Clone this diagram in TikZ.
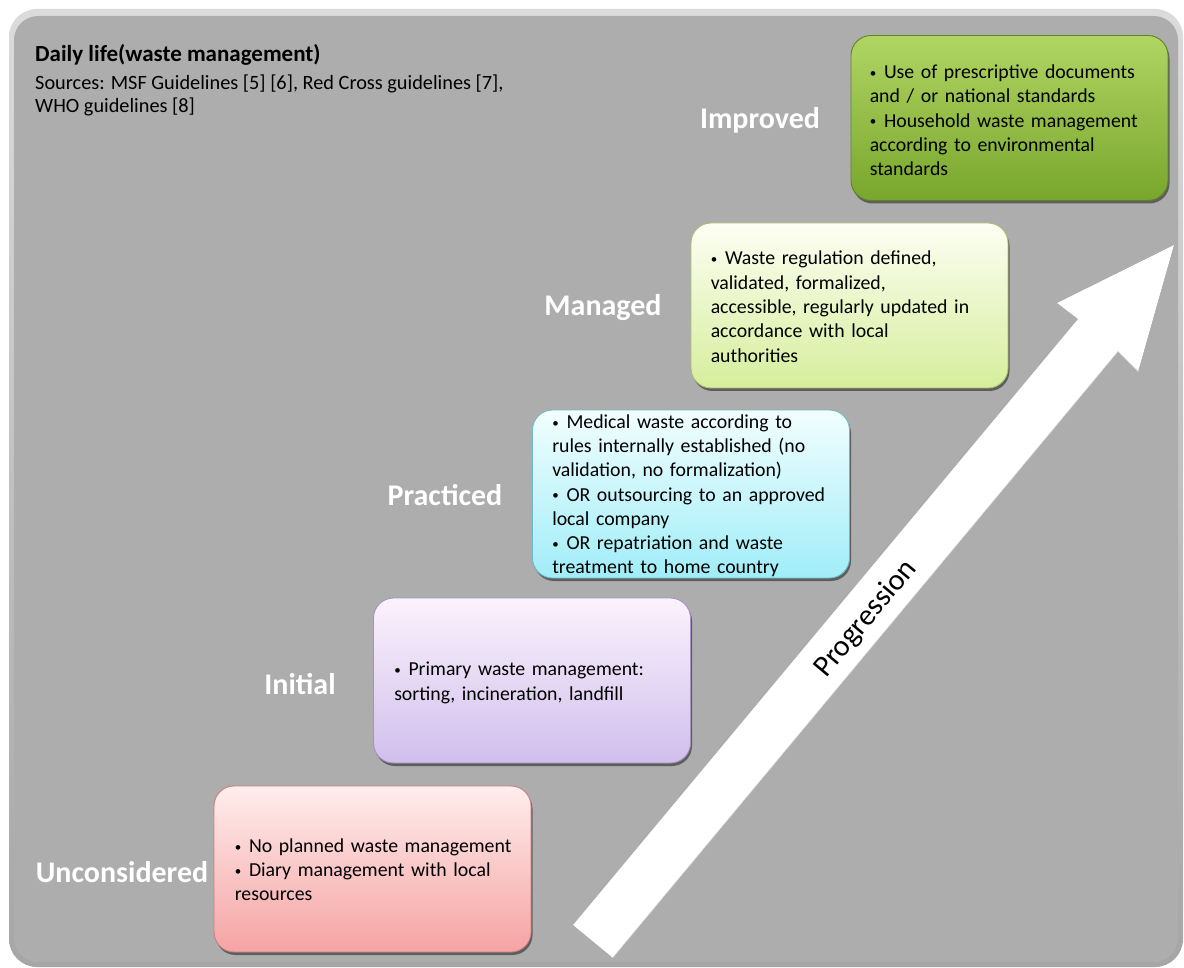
\documentclass[tikz,border=0pt]{standalone}
\usepackage{fontspec}
\setmainfont{Carlito}
\usetikzlibrary{shadows}

\definecolor{bgray}{HTML}{ADADAD}
\definecolor{gTop}{HTML}{B0D563}
\definecolor{gBot}{HTML}{78A62C}
\definecolor{gEdge}{HTML}{5E8423}
\definecolor{mTop}{HTML}{FDFEF3}
\definecolor{mBot}{HTML}{D6EE9C}
\definecolor{mEdge}{HTML}{A9BF74}
\definecolor{pTop}{HTML}{F2FEFE}
\definecolor{pBot}{HTML}{A0EDF8}
\definecolor{pEdge}{HTML}{6FB9C6}
\definecolor{iTop}{HTML}{FCF2FC}
\definecolor{iBot}{HTML}{D0BFEC}
\definecolor{iEdge}{HTML}{A393C0}
\definecolor{uTop}{HTML}{FFEDED}
\definecolor{uBot}{HTML}{F5A3A3}
\definecolor{uEdge}{HTML}{C98080}

\newcommand{\bitem}[1]{\par\hangindent=0.72em\hangafter=1\noindent\makebox[0.72em][l]{\raisebox{0.12ex}{\fontsize{13}{13}\selectfont •}}#1}

\tikzset{
  levelbox/.style={rounded corners=20pt, minimum width=317pt, minimum height=165pt,
    line width=0.9pt, inner sep=0pt,
    drop shadow={shadow xshift=1.5pt, shadow yshift=-3pt, opacity=0.45, fill=black}},
  btxt/.style={anchor=west, text width=278pt, align=left, inner sep=0pt,
    font=\fontsize{19.8}{24.3}\selectfont, text=black},
  lvl/.style={font=\fontsize{30}{34}\selectfont\bfseries, text=white, inner sep=0pt},
}

\begin{document}
\begin{tikzpicture}[x=1pt,y=-1pt]
\useasboundingbox (0,0) rectangle (1184,968);
\fill[white] (0,0) rectangle (1184,968);

% frame
\shade[rounded corners=28pt, top color=gray!28, bottom color=gray!70]
  (9,9) rectangle (1183,967);
\fill[bgray, rounded corners=24pt] (14,16) rectangle (1178,962);

% title
\node[anchor=base west, inner sep=0pt, font=\fontsize{23}{26}\selectfont\bfseries] (title) at (35,62) {Daily life(waste management)};
\node[anchor=base west, inner sep=0pt, align=left, font=\fontsize{20.3}{23}\selectfont] (src) at (35,113)
  {Sources: MSF Guidelines [5] [6], Red Cross guidelines [7],\\WHO guidelines [8]};

% arrow
\coordinate (aTL) at (573,925);
\coordinate (aTR) at (613,958);
\coordinate (aNL) at (1078,319);
\coordinate (aBL) at (1057,303);
\coordinate (aTip) at (1174,245);
\coordinate (aBR) at (1138,372);
\coordinate (aNR) at (1118,352);
\fill[black!70, opacity=0.6, xshift=-2pt, yshift=2pt]
  (aTL) -- (aNL) -- (aBL) -- (aTip) -- (aBR) -- (aNR) -- (aTR) -- cycle;
\fill[white] (aTL) -- (aNL) -- (aBL) -- (aTip) -- (aBR) -- (aNR) -- (aTR) -- cycle;
\draw[gray!60, line width=1.2pt, opacity=0.6] (aTR) -- (aNR) -- (aBR);
\node[rotate=50.2, inner sep=0pt, font=\fontsize{30}{34}\selectfont] (prog) at (866,619) {Progression};

% boxes
\node[levelbox, top color=gTop, bottom color=gBot, draw=gEdge] (b5) at (1009.5,118) {};
\node[levelbox, top color=mTop, bottom color=mBot, draw=mEdge] (b4) at (849.5,305.5) {};
\node[levelbox, top color=pTop, bottom color=pBot, draw=pEdge, minimum height=168pt] (b3) at (691,494) {};
\node[levelbox, top color=iTop, bottom color=iBot, draw=iEdge] (b2) at (532,680.5) {};
\node[levelbox, top color=uTop, bottom color=uBot, draw=uEdge, minimum height=166pt] (b1) at (372.5,869) {};

% box texts
\node[btxt] (t5) at ([xshift=19pt,yshift=3pt]b5.west)
  {\bitem{Use of prescriptive documents\\and / or national standards}\bitem{Household waste management\\according to environmental\\standards}};
\node[btxt] (t4) at ([xshift=20pt,yshift=4pt]b4.west)
  {\bitem{Waste regulation defined,\\validated, formalized,\\accessible, regularly updated in\\accordance with local\\authorities}};
\node[btxt] (t3) at ([xshift=20pt,yshift=3.5pt]b3.west)
  {\bitem{Medical waste according to\\rules internally established (no\\validation, no formalization)}\bitem{OR outsourcing to an approved\\local company}\bitem{OR repatriation and waste\\treatment to home country}};
\node[btxt] (t2) at ([xshift=21pt,yshift=3pt]b2.west)
  {\bitem{Primary waste management:\\sorting, incineration, landfill}};
\node[btxt] (t1) at ([xshift=21pt,yshift=4.5pt]b1.west)
  {\bitem{No planned waste management}\bitem{Diary management with local\\resources}};

% level labels
\node[lvl] (l5) at (760,120) {Improved};
\node[lvl] (l4) at (603,308) {Managed};
\node[lvl] (l3) at (445,495) {Practiced};
\node[lvl] (l2) at (300,684) {Initial};
\node[lvl] (l1) at (122,872) {Unconsidered};
\end{tikzpicture}
\end{document}
